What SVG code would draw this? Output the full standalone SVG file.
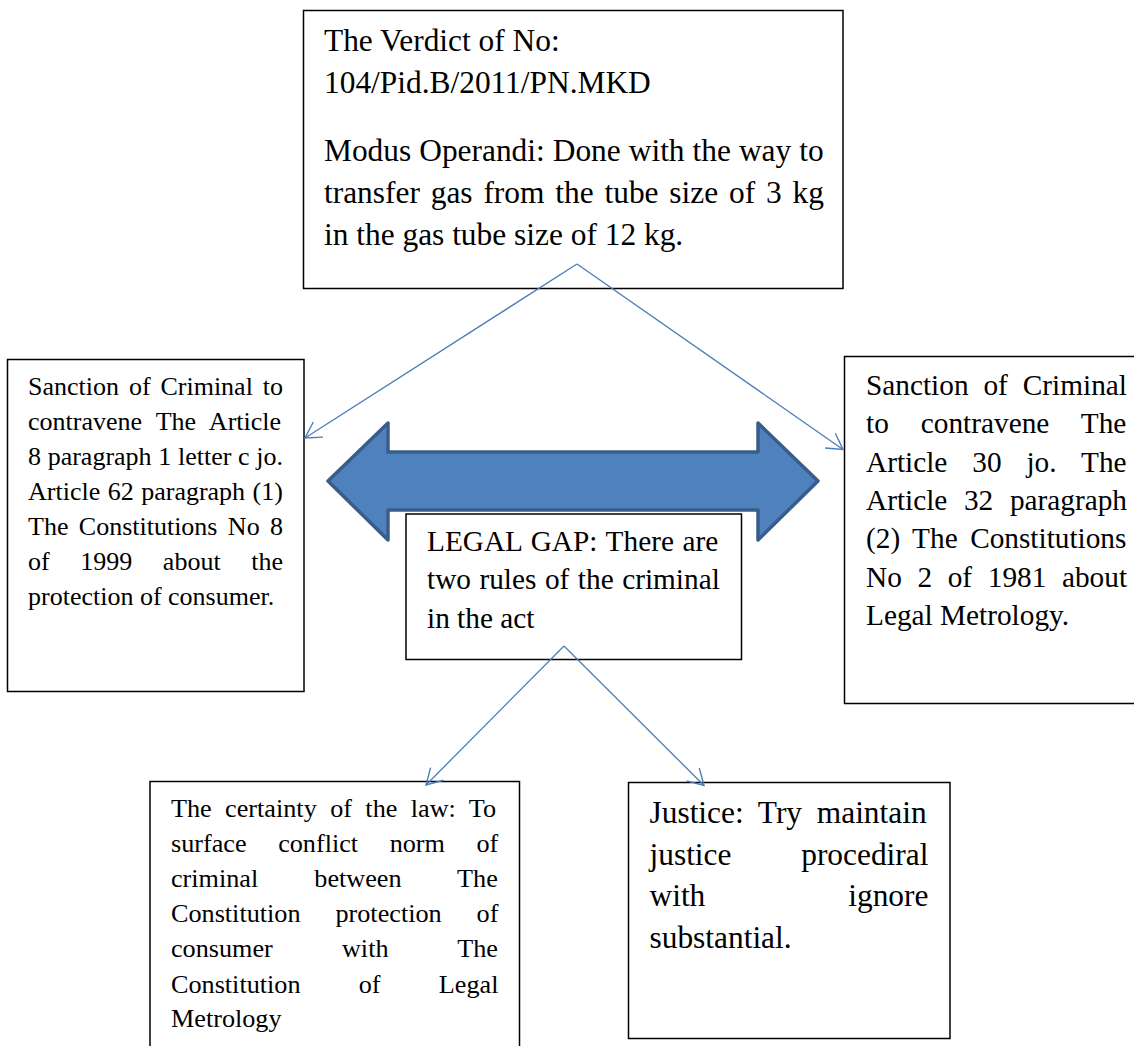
<svg xmlns="http://www.w3.org/2000/svg" width="1134" height="1046" viewBox="0 0 1134 1046">
<defs>
<style>
.box{fill:#fff;stroke:#000;stroke-width:1.5}
.txt{font-family:"Liberation Serif","Times New Roman",serif;fill:#000}
.s26{font-size:26px}
.s262{font-size:26.2px}
.s29{font-size:29.3px}
.s31{font-size:31.4px}
.conn{fill:none;stroke:#4A7EBB;stroke-width:1.3;marker-end:url(#arr)}
.big{fill:#4F81BD;stroke:#385D8A;stroke-width:3.5;stroke-linejoin:round}
</style>
<marker id="arr" markerUnits="userSpaceOnUse" markerWidth="24" markerHeight="24" viewBox="-20 -12 24 24" refX="0" refY="0" orient="auto" overflow="visible">
<path d="M-15.6,-9 L0,0 L-15.6,9" fill="none" stroke="#4A7EBB" stroke-width="1.4"/>
</marker>
</defs>
<rect x="0" y="0" width="1134" height="1046" fill="#fff"/>

<g id="gap-arrow">
<polygon class="big" points="328,481 388,423 388,452 758,452 758,423 818,481 758,540 758,510 388,510 388,540"/>
</g>

<g id="verdict">
<rect class="box" x="303.5" y="10.5" width="539.5" height="278"/>
<text class="txt s31" x="324" y="51">The Verdict of No:</text>
<text class="txt s31" x="324" y="93">104/Pid.B/2011/PN.MKD</text>
<text class="txt s31" x="324" y="161" word-spacing="0.16">Modus Operandi: Done with the way to</text>
<text class="txt s31" x="324" y="203" word-spacing="3">transfer gas from the tube size of 3 kg</text>
<text class="txt s31" x="324" y="245">in the gas tube size of 12 kg.</text>
</g>

<g id="sanction-left">
<rect class="box" x="7.5" y="359.5" width="296.5" height="332"/>
<text class="txt s26" x="28" y="395" word-spacing="3.4">Sanction of Criminal to</text>
<text class="txt s26" x="28" y="430" word-spacing="7.65">contravene The Article</text>
<text class="txt s26" x="28" y="465" word-spacing="0.17">8 paragraph 1 letter c jo.</text>
<text class="txt s26" x="28" y="500" word-spacing="1">Article 62 paragraph (1)</text>
<text class="txt s26" x="28" y="535" word-spacing="3.87">The Constitutions No 8</text>
<text class="txt s26" x="28" y="570" word-spacing="24.1">of 1999 about the</text>
<text class="txt s26" x="28" y="605">protection of consumer.</text>
</g>

<g id="sanction-right">
<rect class="box" x="844.5" y="356.5" width="300" height="347"/>
<text class="txt s29" x="866" y="395" word-spacing="7.6">Sanction of Criminal</text>
<text class="txt s29" x="866" y="433.3" word-spacing="24.7">to contravene The</text>
<text class="txt s29" x="866" y="471.7" word-spacing="17.6">Article 30 jo. The</text>
<text class="txt s29" x="866" y="510" word-spacing="9.3">Article 32 paragraph</text>
<text class="txt s29" x="866" y="548.3" word-spacing="5.15">(2) The Constitutions</text>
<text class="txt s29" x="866" y="586.7" word-spacing="8.3">No 2 of 1981 about</text>
<text class="txt s29" x="866" y="625">Legal Metrology.</text>
</g>

<g id="legal-gap">
<rect class="box" x="406" y="514" width="335.5" height="145.5"/>
<text class="txt s29" x="427" y="550.5" word-spacing="1.4">LEGAL GAP: There are</text>
<text class="txt s29" x="427" y="589" word-spacing="1.2">two rules of the criminal</text>
<text class="txt s29" x="427" y="627.5">in the act</text>
</g>

<g id="certainty">
<rect class="box" x="150" y="781.5" width="369.5" height="290"/>
<text class="txt s262" x="171" y="816.7" word-spacing="6.86">The certainty of the law: To</text>
<text class="txt s262" x="171" y="851.7" word-spacing="25">surface conflict norm of</text>
<text class="txt s262" x="171" y="886.7" word-spacing="49.5">criminal between The</text>
<text class="txt s262" x="171" y="922" word-spacing="28.4">Constitution protection of</text>
<text class="txt s262" x="171" y="957.3" word-spacing="62.6">consumer with The</text>
<text class="txt s262" x="171" y="992.5" word-spacing="51.7">Constitution of Legal</text>
<text class="txt s262" x="171" y="1027.3">Metrology</text>
</g>

<g id="justice">
<rect class="box" x="628.5" y="782.5" width="321.5" height="256"/>
<text class="txt s31" x="649.5" y="823" word-spacing="6.9">Justice: Try maintain</text>
<text class="txt s31" x="649.5" y="864.7" word-spacing="61.9">justice procediral</text>
<text class="txt s31" x="649.5" y="906.3" word-spacing="135.1">with ignore</text>
<text class="txt s31" x="649.5" y="948">substantial.</text>
</g>

<g id="connectors">
<path class="conn" d="M577,264 L305,438"/>
<path class="conn" d="M577,264 L843,449.5"/>
<path class="conn" d="M564,646 L426,785"/>
<path class="conn" d="M564,646 L704,785.5"/>
</g>
</svg>
